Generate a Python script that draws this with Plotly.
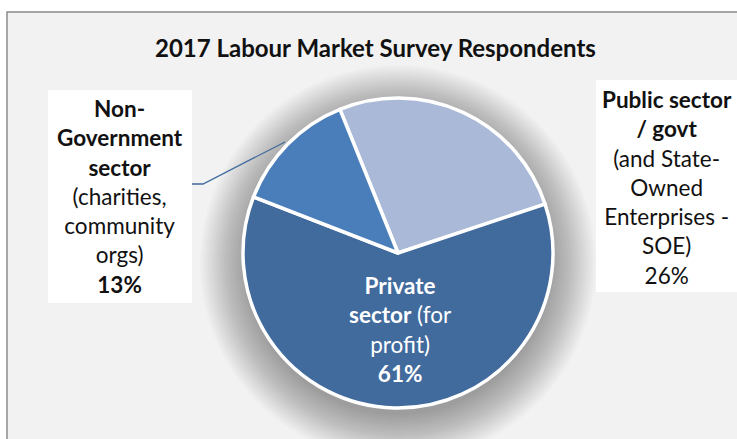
import plotly.graph_objects as go

W, H = 737, 439

# ---- data ----
sectors = ["Public sector / govt", "Private sector", "Non-Government sector"]
values = [26, 61, 13]
colors = ["#A9B9D7", "#416A9D", "#4A7EBB"]

title_text = "2017 Labour Market Survey Respondents"
public_label = ["<b>Public sector</b>", "<b>/ govt</b>", "(and State-", "Owned",
                "Enterprises -", "SOE)", f"{values[0]}%"]
private_label = ["<b>Private</b>", "<b>sector</b> (for", "profit)", f"<b>{values[1]}%</b>"]
nongov_label = ["<b>Non-</b>", "<b>Government</b>", "<b>sector</b>", "(charities,",
                "community", "orgs)", f"<b>{values[2]}%</b>"]

FONT = "Lato"
LBL = 22.5


def px(x):
    return x / W


def py(y):
    return 1 - y / H


cx, cy, r = 398, 253, 155

fig = go.Figure()
fig.add_trace(go.Pie(
    labels=sectors, values=values, sort=False, direction="clockwise",
    rotation=-22, marker=dict(colors=colors, line=dict(color="white", width=3.5)),
    textinfo="none", hoverinfo="label+percent", showlegend=False,
    domain=dict(x=[px(cx - r), px(cx + r)], y=[py(cy + r), py(cy - r)]),
))

shapes = []
# chart area background and frame
shapes.append(dict(type="rect", xref="paper", yref="paper", layer="below",
                   x0=px(7), x1=px(745), y0=py(450), y1=py(12),
                   fillcolor="#F2F2F2", line=dict(color="#8C8C8C", width=1.5)))
# soft shadow around pie
for i in range(24):
    rr = 198 - i * 2
    scx, scy = cx, cy + 10
    shapes.append(dict(type="circle", xref="paper", yref="paper", layer="below",
                       x0=px(scx - rr), x1=px(scx + rr), y0=py(scy + rr), y1=py(scy - rr),
                       fillcolor="rgba(0,0,0,0.014)", line=dict(width=0)))
# white label boxes
shapes.append(dict(type="rect", xref="paper", yref="paper", layer="below",
                   x0=px(48), x1=px(192), y0=py(303), y1=py(90),
                   fillcolor="white", line=dict(width=0)))
shapes.append(dict(type="rect", xref="paper", yref="paper", layer="below",
                   x0=px(596), x1=px(745), y0=py(292), y1=py(80),
                   fillcolor="white", line=dict(width=0)))
# leader line for Non-Government
shapes.append(dict(type="path", xref="paper", yref="paper", layer="above",
                   path=f"M {px(192)} {py(184)} L {px(203)} {py(184)} L {px(285)} {py(142)}",
                   line=dict(color="#3F6A9D", width=1.3)))

annotations = [
    dict(text=f"<b>{title_text}</b>", x=px(375), y=py(47), xref="paper", yref="paper",
         showarrow=False, xanchor="center", yanchor="middle",
         font=dict(family=FONT, size=24, color="#111111")),
    dict(text="<br>".join(nongov_label), x=px(120), y=py(196), xref="paper", yref="paper",
         showarrow=False, xanchor="center", yanchor="middle", align="center",
         font=dict(family=FONT, size=LBL, color="#111111")),
    dict(text="<br>".join(public_label), x=px(667), y=py(187), xref="paper", yref="paper",
         showarrow=False, xanchor="center", yanchor="middle", align="center",
         font=dict(family=FONT, size=LBL, color="#111111")),
    dict(text="<br>".join(private_label), x=px(400), y=py(329), xref="paper", yref="paper",
         showarrow=False, xanchor="center", yanchor="middle", align="center",
         font=dict(family=FONT, size=LBL, color="white")),
]

fig.update_layout(
    width=W, height=H, margin=dict(l=0, r=0, t=0, b=0),
    paper_bgcolor="white", plot_bgcolor="white",
    shapes=shapes, annotations=annotations,
)

fig.write_html("out.html", config={"displayModeBar": False},
               post_script="document.body.style.margin='0px';")
